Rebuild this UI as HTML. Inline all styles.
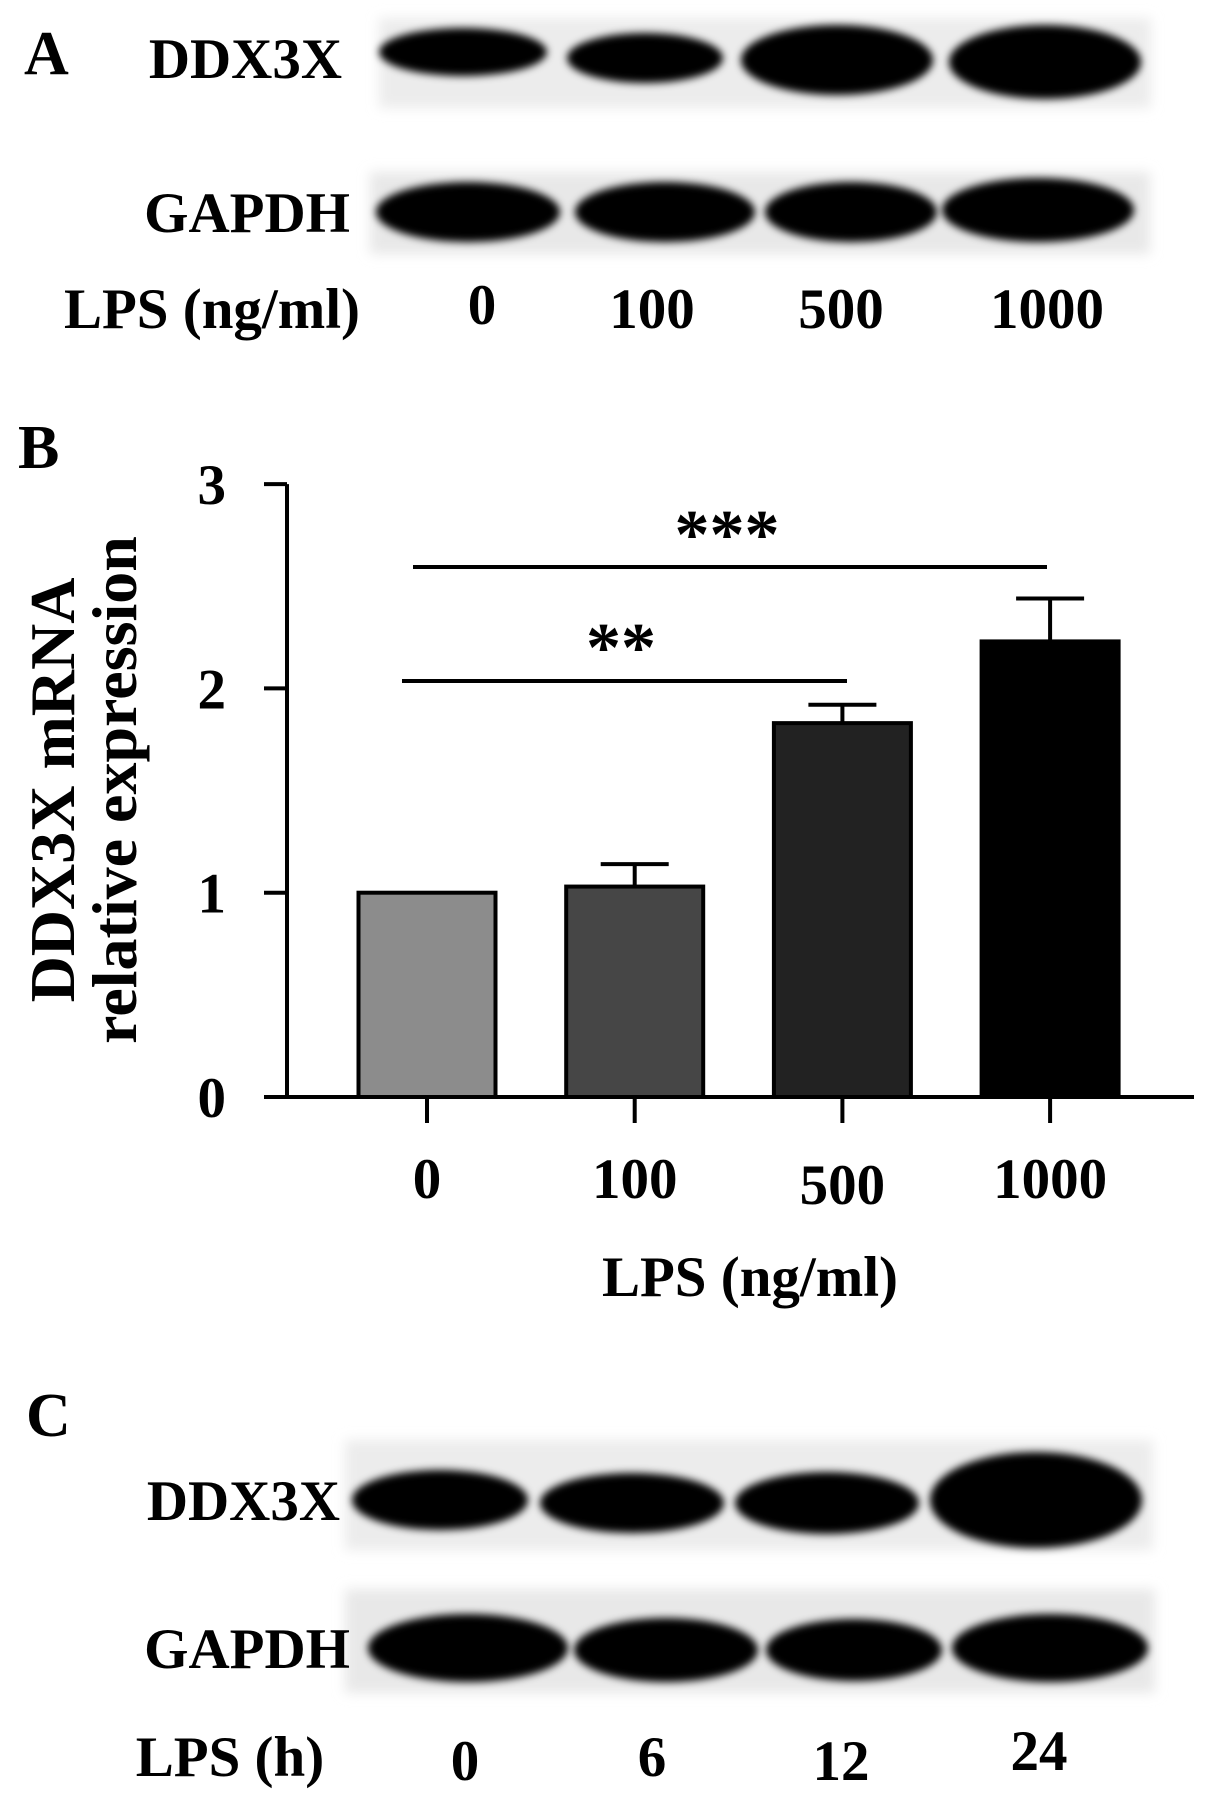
<!DOCTYPE html>
<html><head><meta charset="utf-8"><style>
html,body{margin:0;padding:0;background:#fff;}
svg{display:block;font-family:"Liberation Serif",serif;font-weight:bold;}
</style></head><body>
<svg width="1205" height="1814" viewBox="0 0 1205 1814">
<defs>
<filter id="blur" x="-20%" y="-50%" width="140%" height="200%"><feGaussianBlur stdDeviation="4"/></filter>
<filter id="blur2" x="-10%" y="-30%" width="120%" height="160%"><feGaussianBlur stdDeviation="6"/></filter>
</defs>
<!-- Panel A -->
<text x="24" y="74" font-size="62">A</text>
<g>
<rect x="379" y="18" width="772" height="90" fill="#ececec" filter="url(#blur2)"/>
<ellipse cx="463" cy="52" rx="84" ry="24" fill="#000" filter="url(#blur)"/>
<ellipse cx="645" cy="58" rx="78" ry="25" fill="#000" filter="url(#blur)"/>
<ellipse cx="837" cy="60" rx="96" ry="35" fill="#000" filter="url(#blur)"/>
<ellipse cx="1045" cy="62" rx="96" ry="37" fill="#000" filter="url(#blur)"/>
</g>
<text x="342" y="78" font-size="57" text-anchor="end">DDX3X</text>
<g>
<rect x="370" y="172" width="780" height="82" fill="#e8e8e8" filter="url(#blur2)"/>
<ellipse cx="468" cy="212" rx="92" ry="30" fill="#000" filter="url(#blur)"/>
<ellipse cx="665" cy="212" rx="90" ry="30" fill="#000" filter="url(#blur)"/>
<ellipse cx="851" cy="212" rx="86" ry="30" fill="#000" filter="url(#blur)"/>
<ellipse cx="1038" cy="210" rx="96" ry="32" fill="#000" filter="url(#blur)"/>
</g>
<text x="350" y="232" font-size="57" text-anchor="end">GAPDH</text>
<g font-size="57" text-anchor="middle">
<text x="212" y="328">LPS (ng/ml)</text>
<text x="482" y="324">0</text>
<text x="652" y="328">100</text>
<text x="841" y="328">500</text>
<text x="1047" y="328">1000</text>
</g>
<!-- Panel B -->
<text x="18" y="468" font-size="62">B</text>
<g id="chart"></g>
<!-- Panel C -->
<text x="26" y="1436" font-size="62">C</text>
<g>
<rect x="345" y="1440" width="808" height="110" fill="#ececec" filter="url(#blur2)"/>
<ellipse cx="440" cy="1500" rx="88" ry="30" fill="#000" filter="url(#blur)"/>
<ellipse cx="632" cy="1503" rx="92" ry="30" fill="#000" filter="url(#blur)"/>
<ellipse cx="827" cy="1503" rx="92" ry="31" fill="#000" filter="url(#blur)"/>
<ellipse cx="1036" cy="1500" rx="106" ry="48" fill="#000" filter="url(#blur)"/>
</g>
<text x="340" y="1520" font-size="57" text-anchor="end">DDX3X</text>
<g>
<rect x="345" y="1589" width="810" height="104" fill="#e8e8e8" filter="url(#blur2)"/>
<ellipse cx="468" cy="1648" rx="100" ry="34" fill="#000" filter="url(#blur)"/>
<ellipse cx="666" cy="1650" rx="92" ry="32" fill="#000" filter="url(#blur)"/>
<ellipse cx="854" cy="1650" rx="88" ry="31" fill="#000" filter="url(#blur)"/>
<ellipse cx="1050" cy="1648" rx="98" ry="34" fill="#000" filter="url(#blur)"/>
</g>
<text x="350" y="1668" font-size="57" text-anchor="end">GAPDH</text>
<g font-size="57" text-anchor="middle">
<text x="230" y="1776">LPS (h)</text>
<text x="465" y="1780">0</text>
<text x="652" y="1776">6</text>
<text x="841" y="1780">12</text>
<text x="1039" y="1770">24</text>
</g>
</svg>
<script>
const categories = ["0", "100", "500", "1000"];
const means = [1.0, 1.03, 1.83, 2.23];
const errors = [0, 0.11, 0.09, 0.21];
const yTicks = [0, 1, 2, 3];
const fills = ["#8c8c8c", "#464646", "#222222", "#000000"];
const NS = "http://www.w3.org/2000/svg";
const g = document.getElementById("chart");
const x0 = 287, yBase = 1097, unit = 204.3, xStart = 427, step = 207.7, barW = 137;
const yS = v => yBase - v * unit;
const xS = i => xStart + i * step;
function mk(tag, attrs, text) {
  const e = document.createElementNS(NS, tag);
  for (const k in attrs) e.setAttribute(k, attrs[k]);
  if (text !== undefined) e.textContent = text;
  g.appendChild(e);
  return e;
}
let e;
e = mk("line", {x1: x0, y1: yS(3), x2: x0, y2: yBase, stroke: "#000", "stroke-width": 4});


e = mk("line", {x1: 264, y1: yBase, x2: 1194, y2: yBase, stroke: "#000", "stroke-width": 4});


yTicks.forEach(t => {
  e = mk("line", {x1: 264, y1: yS(t), x2: x0, y2: yS(t), stroke: "#000", "stroke-width": 4});
  
  
  e = mk("text", {x: 226, y: yS(t) + 20, "font-size": 57, "text-anchor": "end"}, String(t));
  
  
});
categories.forEach((c, i) => {
  const cx = xS(i);
  if (errors[i] > 0) {
    e = mk("line", {x1: cx, y1: yS(means[i]), x2: cx, y2: yS(means[i] + errors[i]), stroke: "#000", "stroke-width": 4});
    
    
    e = mk("line", {x1: cx - 34, y1: yS(means[i] + errors[i]), x2: cx + 34, y2: yS(means[i] + errors[i]), stroke: "#000", "stroke-width": 4});
    
    
  }
  e = mk("rect", {x: cx - barW / 2, y: yS(means[i]), width: barW, height: yBase - yS(means[i]), fill: fills[i], stroke: "#000", "stroke-width": 4});
  
  
  e = mk("line", {x1: cx, y1: yBase, x2: cx, y2: 1123, stroke: "#000", "stroke-width": 4});
  
  
  e = mk("text", {x: cx, y: 1198 + (i === 2 ? 6 : 0), "font-size": 57, "text-anchor": "middle"}, c);
  
  
});
e = mk("line", {x1: 402, y1: 681, x2: 847, y2: 681, stroke: "#000", "stroke-width": 4});


e = mk("text", {x: 621, y: 671, "font-size": 70, "text-anchor": "middle"}, "**");


e = mk("line", {x1: 413, y1: 567, x2: 1047, y2: 567, stroke: "#000", "stroke-width": 4});


e = mk("text", {x: 727, y: 558, "font-size": 70, "text-anchor": "middle"}, "***");


e = mk("text", {x: 750, y: 1296, "font-size": 57, "text-anchor": "middle"}, "LPS (ng/ml)");


e = mk("text", {x: 0, y: 0, "font-size": 64, "text-anchor": "middle", transform: "translate(74,790) rotate(-90)"}, "DDX3X mRNA");


e = mk("text", {x: 0, y: 0, "font-size": 64, "text-anchor": "middle", transform: "translate(136,790) rotate(-90)"}, "relative expression");


</script>
</body></html>
